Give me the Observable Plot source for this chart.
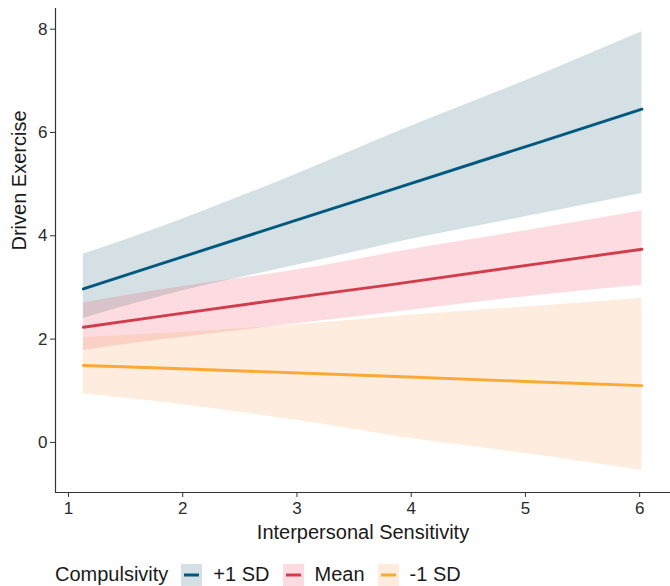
<!DOCTYPE html>
<html>
<head>
<meta charset="utf-8">
<script src="https://cdn.jsdelivr.net/npm/d3@7"></script>
<script src="https://cdn.jsdelivr.net/npm/@observablehq/plot@0.6"></script>
<style>
  html, body { margin: 0; padding: 0; background: #fff; }
  #wrap { position: relative; width: 670px; height: 586px; overflow: hidden; font-family: "Liberation Sans", Arial, sans-serif; }
  #legend { position: absolute; left: 55px; top: 563px; display: flex; align-items: center; font-size: 20px; color: #1a1a1a; white-space: nowrap; }
  #legend .sw { margin: 0 11px 0 13px; display: block; }
</style>
</head>
<body>
<div id="wrap">
  <div id="chart"></div>
  <div id="legend"></div>
</div>
<script>
// ---- data ----
const xVals = [1.13, 1.80, 3.20, 3.81, 5.12, 6.02];
const groups = ["+1 SD", "Mean", "-1 SD"];
const legendTitle = "Compulsivity";

const fitPlus   = [2.97, 3.45, 4.45, 4.88, 5.81, 6.45];
const lowPlus   = [2.40, 2.82, 3.53, 3.84, 4.42, 4.82];
const highPlus  = [3.64, 4.16, 5.38, 5.95, 7.11, 7.95];

const fitMean   = [2.23, 2.44, 2.87, 3.05, 3.46, 3.74];
const lowMean   = [1.78, 1.98, 2.35, 2.51, 2.85, 3.04];
const highMean  = [2.70, 2.95, 3.41, 3.66, 4.14, 4.48];

const fitMinus  = [1.49, 1.44, 1.33, 1.28, 1.17, 1.10];
const lowMinus  = [0.94, 0.78, 0.36, 0.14, -0.25, -0.54];
const highMinus = [2.03, 2.11, 2.31, 2.43, 2.64, 2.79];

const xTicks = [1, 2, 3, 4, 5, 6];
const yTicks = [0, 2, 4, 6, 8];
const xLabel = "Interpersonal Sensitivity";
const yLabel = "Driven Exercise";

// ---- styling ----
const lineColor = {"+1 SD": "#03587f", "Mean": "#d23d4e", "-1 SD": "#fba834"};
const bandColor = {"+1 SD": "#286478", "Mean": "#f05064", "-1 SD": "#faa05a"};
const bandOpacity = 0.2;

const series = {
  "+1 SD": [fitPlus, lowPlus, highPlus],
  "Mean": [fitMean, lowMean, highMean],
  "-1 SD": [fitMinus, lowMinus, highMinus]
};
const rows = [];
for (const g of groups) {
  const [f, lo, hi] = series[g];
  xVals.forEach((x, i) => rows.push({group: g, x, fit: f[i], low: lo[i], high: hi[i]}));
}

const xDomain = [0.886, 6.27];
const yDomain = [-0.97, 8.4];
const font = "Liberation Sans, Arial, sans-serif";

const chart = Plot.plot({
  width: 670,
  height: 560,
  marginLeft: 55,
  marginRight: 0,
  marginTop: 8,
  marginBottom: 68,
  style: {fontFamily: font, background: "white", color: "#1a1a1a"},
  x: {domain: xDomain},
  y: {domain: yDomain},
  marks: [
    Plot.areaY(rows, {x: "x", y1: "low", y2: "high", z: "group", fill: d => bandColor[d.group], fillOpacity: bandOpacity, curve: "monotone-x"}),
    Plot.line(rows, {x: "x", y: "fit", z: "group", stroke: d => lineColor[d.group], strokeWidth: 2.9}),
    Plot.ruleX([xDomain[0]], {stroke: "#333", strokeWidth: 1.2}),
    Plot.ruleY([yDomain[0]], {stroke: "#333", strokeWidth: 1.2}),
    Plot.axisX({ticks: xTicks, tickSize: 5, tickPadding: 4, fontSize: 17, label: null, stroke: "#333", fill: "#2b2b2b", tickFormat: d => d}),
    Plot.axisY({ticks: yTicks, tickSize: 5, tickPadding: 3, fontSize: 17, label: null, stroke: "#333", fill: "#2b2b2b", tickFormat: d => d}),
    Plot.text([xLabel], {frameAnchor: "bottom", dy: 46, fontSize: 20, fill: "#1a1a1a"}),
    Plot.text([yLabel], {frameAnchor: "left", dx: -36, rotate: -90, fontSize: 20, fill: "#1a1a1a"})
  ]
});
document.getElementById("chart").appendChild(chart);

// ---- legend ----
const legend = document.getElementById("legend");
const title = document.createElement("span");
title.textContent = legendTitle;
legend.appendChild(title);
for (const g of groups) {
  const ns = "http://www.w3.org/2000/svg";
  const svg = document.createElementNS(ns, "svg");
  svg.setAttribute("width", 21);
  svg.setAttribute("height", 22);
  svg.setAttribute("class", "sw");
  const r = document.createElementNS(ns, "rect");
  r.setAttribute("width", 21); r.setAttribute("height", 22);
  r.setAttribute("fill", bandColor[g]); r.setAttribute("fill-opacity", bandOpacity);
  svg.appendChild(r);
  const l = document.createElementNS(ns, "line");
  l.setAttribute("x1", 3); l.setAttribute("x2", 18); l.setAttribute("y1", 11); l.setAttribute("y2", 11);
  l.setAttribute("stroke", lineColor[g]); l.setAttribute("stroke-width", 3);
  svg.appendChild(l);
  legend.appendChild(svg);
  const t = document.createElement("span");
  t.textContent = g;
  legend.appendChild(t);
}
</script>
</body>
</html>
